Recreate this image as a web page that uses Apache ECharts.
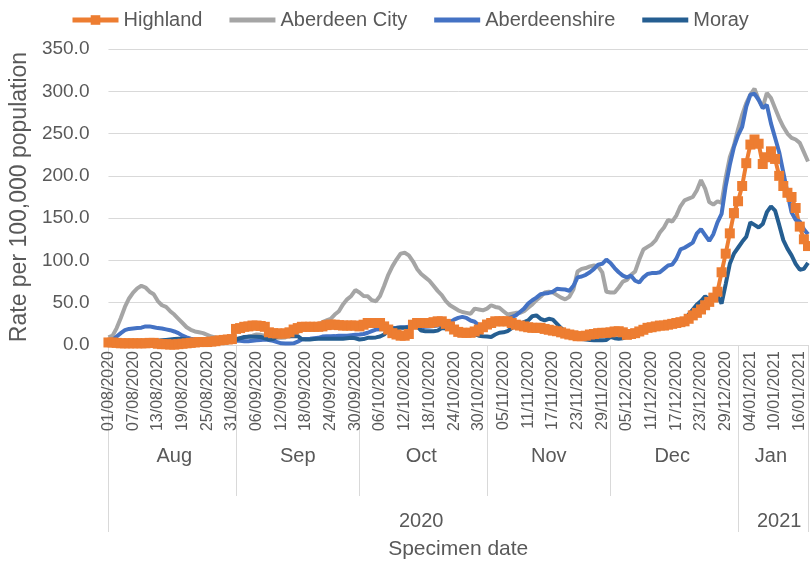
<!DOCTYPE html>
<html>
<head>
<meta charset="utf-8">
<script src="https://cdn.jsdelivr.net/npm/echarts@6/dist/echarts.min.js"></script>
<style>
  html, body { margin: 0; padding: 0; background: #fff; }
  #main { width: 810px; height: 565px; }
</style>
</head>
<body>
<div id="main"></div>
<script>
// 7-day rate per 100,000, by specimen date
var startDate = [2020, 7, 1];   // 01/08/2020
var dayCount = 171;             // to 18/01/2021

var highland = [3,3,2.5,2,2,2,2,2,2,2,
	2.5,2.5,1.5,1,1,0.5,0.5,1,1.5,2,
	2.5,3,3.5,3.5,3.5,4,4.5,5.5,6,6.5,
	7,19,20,21.5,22,23,23,22.5,21.5,15,
	14,13.6,13.6,13.6,15,18.3,20,21.5,21.5,21.5,
	21.5,21.5,22,23.5,24.2,24,23.5,23,23,23,
	23,22,24,26,26,26,26,22,18.3,14,
	12.4,11,11,13,24,26,26,26,26,27,
	28,28,25,22,18.3,15.5,14.4,14.4,14.4,16,
	18.3,21,24.2,26,28,28,28,28,26,24,
	23,22,21,20.3,20.3,20.3,19,18,17,16.3,
	15,13.5,12.4,11.5,10.4,10.4,11,12.4,13,14,
	14.4,14.4,15,16,16.3,15,12,13,14,16,
	18,20.3,21,22,23,23,24,25,26,27,
	28,31,35,38,42,47,51,56,63,86,
	108,132,156,170,188,215,237,243,238,214,
	222,229,220,200,188,180,175,162,140,125,
	117];

var aberdeenCity = [9,11,20,32,45,55,62,67,70,68,
	63,60,52,47,45,40,36,31,26,21,
	18,16,15,14,12,10,9,8,7,6.5,
	6.5,7,8,8.5,10,11,12.5,12,11,10.5,
	9,8.5,8.5,9,11,13,15,19,21.5,22,
	23,24,27,29,31,36,40,48,54,58,
	65,62,58,57.6,53,51.7,58,70,83,93,
	101,108,109,106,99,90,84,80,76,70,
	64,59,52,47,44,41,39,38,37,43,
	42,41,43,47,45,44,40,36,37,38,
	38,40,44,48,53,57,62,63,62,59,
	56,54,57,66,87,90,91,93,94,93,
	86,63,62,62,68,75,77,83,87,101,
	113,116,119,124,133,139,148,146,153,164,
	171,173,175,183,195,185,169,166,170,168,
	198,222,236,255,272,286,296,303,290,281,
	298,292,280,268,258,250,245,243,239,228,
	217];

var aberdeenshire = [4,6,10,14,17.5,19,19.5,20,20.5,22,
	22,21,20,19.5,18.5,17.5,16,14,11,9,
	7.5,6.5,6,5.5,5.5,5,5,4.5,4.5,4.5,
	4.5,5,5,4.5,4.5,5,5.5,6,6.5,6,
	5,3.5,2,1.8,1.8,2,4,6.5,7,7.3,
	8,8.5,10,10.4,10.4,10.5,11,11,11,11.5,
	12,12.4,13,14.5,16.5,18.3,18.5,19,19.5,20,
	20.3,21,21,21.5,21,21,21,21.5,22,22.5,
	23,23.5,24.2,27,30,32,33.3,32,29,27.5,
	23,22,22,22,25,28,29,31,33,35,
	39,43,49,53,56,60,61,61.6,63,66.4,
	66,65.6,64,70,80,81,83,86,90,95,
	96,101,97,91,86,82,80,82,76,74,
	80,84,85,85,86,90,94,95,102,113,
	115,118,121,132,137,130,123,131,145,155,
	188,213,234,248,258,282,296,297,290,280,
	284,262,245,228,204,180,157,148,146,137,
	131];

var moray = [4.5,5,4.5,4,3.5,3,2.5,2,2,3,
	4,4.5,5,5.5,6,6.5,7,7.3,7,6.5,
	6,5.5,5.3,5,5,4.5,4.5,4.5,4.5,5,
	5.5,6.5,8,9.5,9.7,9.7,9.7,9.5,8,6.5,
	7,10,12.4,11.5,10.4,10.4,10.4,7,6.5,6.5,
	7,7.3,7.3,7.3,7.3,7.3,7.5,7.5,8,8.5,
	8,6.5,7,8.5,8.5,9,10,12.4,17,19,
	20,20.3,20.3,20.5,23,22,17,16.3,16.3,16.3,
	17,20,19.5,19,18.5,18.3,17,15.5,14.4,12.5,
	11,10.4,10,9.5,12.4,14.5,15,16.5,20,24,
	25,27,29,34,35,31,29,31,30,25,
	20,16,15,11,8.5,7,6.5,6,5.7,5.7,
	5.7,6,9.7,8,7.3,8,10,11.2,12.5,14,
	18,22,24,24,24,24,24.2,24.2,24.5,26,
	30,36,42,47.8,52,57.6,54,55.7,58,49,
	72,96,108,115,122,128,145,142,139,143,
	157,164,159,142,124,114,106,96,89,90,
	97];

// second and third level of the category axis
var monthNames = ['Aug', 'Sep', 'Oct', 'Nov', 'Dec', 'Jan'];
var monthLabelIdx = [16, 46, 76, 107, 137, 161];
var monthEdgeIdx = [0, 31, 61, 92, 122, 153, 170];
var yearNames = ['2020', '2021'];
var yearLabelIdx = [76, 163];
var yearEdgeIdx = [0, 153, 170];

var yTicks = [0, 350, 50];   // min, max, step

function pad(n) {
	return (n < 10 ? '0' : '') + n;
}

var dates = [];
for (var i = 0; i < dayCount; i++) {
	var d = new Date(startDate[0], startDate[1], startDate[2] + i);
	dates.push(pad(d.getDate()) + '/' + pad(d.getMonth() + 1) + '/' + d.getFullYear());
}

var textColor = '#595959';
var lineGray = '#d9d9d9';
var fontFamily = '"Liberation Sans", Arial, sans-serif';
// plain line icon for the legend (the empty moves keep the icon box 46x12)
var lineIcon = 'path://M0,0M0,3.5H46V8.5H0ZM46,12';

var myChart = echarts.init(document.getElementById('main'));

var option = {
	animation : false,
	textStyle : {
		fontFamily : fontFamily
	},
	color : [ '#ED7D31', '#A5A5A5', '#4472C4', '#255E91' ],
	legend : {
		top : 5,
		left : 65,
		itemWidth : 46,
		itemHeight : 12,
		itemGap : 27,
		lineStyle : {
			width : 5
		},
		textStyle : {
			fontSize : 20,
			color : textColor,
			fontFamily : fontFamily
		},
		data : [ {
			name : 'Highland'
		}, {
			name : 'Aberdeen City',
			icon : lineIcon
		}, {
			name : 'Aberdeenshire',
			icon : lineIcon
		}, {
			name : 'Moray',
			icon : lineIcon
		} ]
	},
	grid : {
		left : 107,
		right : 2,
		top : 49,
		bottom : 220
	},
	xAxis : [ {
		type : 'category',
		data : dates,
		boundaryGap : false,
		axisLine : {
			lineStyle : {
				color : lineGray
			}
		},
		axisTick : {
			show : false
		},
		axisLabel : {
			interval : 5,
			rotate : 90,
			fontSize : 16,
			color : textColor,
			margin : 6
		}
	}, {
		// months
		type : 'category',
		data : dates,
		position : 'bottom',
		boundaryGap : false,
		axisLine : {
			show : false,
			onZero : false
		},
		axisTick : {
			show : true,
			length : 151,
			interval : function(idx) {
				return monthEdgeIdx.indexOf(idx) >= 0;
			},
			lineStyle : {
				color : lineGray
			}
		},
		axisLabel : {
			interval : function(idx) {
				return monthLabelIdx.indexOf(idx) >= 0;
			},
			formatter : function(v, idx) {
				return monthNames[monthLabelIdx.indexOf(idx)];
			},
			fontSize : 20,
			color : textColor,
			margin : 101
		}
	}, {
		// years
		type : 'category',
		data : dates,
		position : 'bottom',
		boundaryGap : false,
		axisLine : {
			show : false,
			onZero : false
		},
		axisTick : {
			show : true,
			length : 187,
			interval : function(idx) {
				return yearEdgeIdx.indexOf(idx) >= 0;
			},
			lineStyle : {
				color : lineGray
			}
		},
		axisLabel : {
			interval : function(idx) {
				return yearLabelIdx.indexOf(idx) >= 0;
			},
			formatter : function(v, idx) {
				return yearNames[yearLabelIdx.indexOf(idx)];
			},
			fontSize : 20,
			color : textColor,
			margin : 166
		},
		name : 'Specimen date',
		nameLocation : 'middle',
		nameGap : 194,
		nameTextStyle : {
			fontSize : 21,
			color : textColor
		}
	} ],
	yAxis : {
		type : 'value',
		min : yTicks[0],
		max : yTicks[1],
		interval : yTicks[2],
		axisLine : {
			show : false
		},
		axisTick : {
			show : false
		},
		splitLine : {
			lineStyle : {
				color : lineGray,
				width : 1
			}
		},
		axisLabel : {
			formatter : function(v) {
				return v.toFixed(1);
			},
			fontSize : 19,
			color : textColor,
			margin : 19
		},
		name : 'Rate per 100,000 population',
		nameLocation : 'middle',
		nameGap : 73,
		nameTextStyle : {
			fontSize : 23,
			color : textColor
		}
	},
	series : [ {
		name : 'Highland',
		type : 'line',
		data : highland,
		symbol : 'rect',
		symbolSize : 10,
		showSymbol : true,
		showAllSymbol : true,
		lineStyle : {
			width : 4
		}
	}, {
		name : 'Aberdeen City',
		type : 'line',
		data : aberdeenCity,
		symbol : 'none',
		lineStyle : {
			width : 4
		}
	}, {
		name : 'Aberdeenshire',
		type : 'line',
		data : aberdeenshire,
		symbol : 'none',
		lineStyle : {
			width : 4
		}
	}, {
		name : 'Moray',
		type : 'line',
		data : moray,
		symbol : 'none',
		lineStyle : {
			width : 4
		}
	} ]
};

myChart.setOption(option);
</script>
</body>
</html>
